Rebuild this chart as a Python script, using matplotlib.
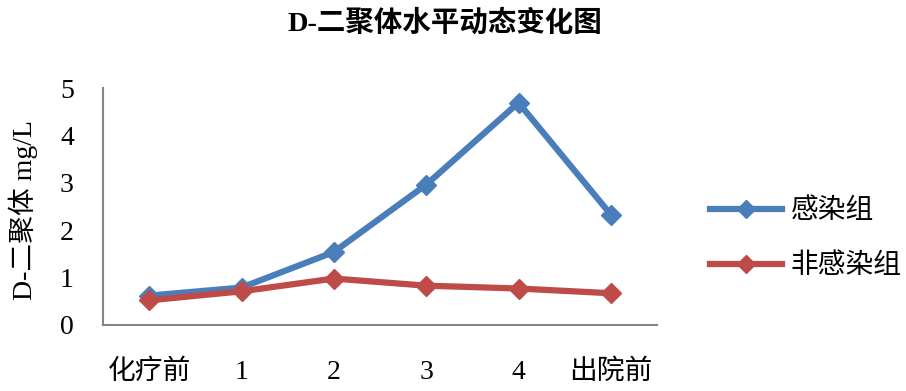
import matplotlib
matplotlib.use("Agg")
import matplotlib.pyplot as plt
from matplotlib.lines import Line2D

categories = ["化疗前", "1", "2", "3", "4", "出院前"]
infected = [0.62, 0.79, 1.54, 2.96, 4.69, 2.33]
non_infected = [0.52, 0.71, 0.98, 0.83, 0.77, 0.67]
series_names = ["感染组", "非感染组"]
yticks = [0, 1, 2, 3, 4, 5]

fam = ["Liberation Serif", "Noto Sans CJK SC", "DejaVu Sans"]
plt.rcParams["font.family"] = fam

fig = plt.figure(figsize=(9.06, 3.91), dpi=100)
ax = fig.add_axes([103/906, 1-325/391, (657-103)/906, (325-88)/391])

blue = "#4a7ebb"
red = "#be4b48"
x = list(range(len(categories)))
ax.plot(x, infected, color=blue, lw=4.5, marker="D", ms=10, mec=blue, mfc=blue, label=series_names[0], zorder=3)
ax.plot(x, non_infected, color=red, lw=4.5, marker="D", ms=10, mec=red, mfc=red, label=series_names[1], zorder=4)

ax.set_xlim(-0.5, len(categories) - 0.5)
ax.set_ylim(0, 5)
ax.set_yticks(yticks)
ax.set_yticklabels([str(v) for v in yticks], fontsize=20)
ax.set_xticks(x)
ax.set_xticklabels(categories, fontsize=20)
ax.tick_params(axis="x", length=0, pad=25)
ax.tick_params(axis="y", length=0, pad=21)
for s in ["top", "right"]:
    ax.spines[s].set_visible(False)
for s in ["left", "bottom"]:
    ax.spines[s].set_color("#868686")
    ax.spines[s].set_linewidth(1.5)

ax.set_ylabel("D-二聚体 mg/L", fontsize=20)
ax.yaxis.set_label_coords((38 - 103) / 554, (325 - 210) / 237)

fig.text(445/906, 1-23/391, "D-二聚体水平动态变化图", ha="center", va="center",
         fontsize=20.5, fontweight="bold")

handles = [Line2D([0], [0], color=blue, lw=4.5, marker="D", ms=9),
           Line2D([0], [0], color=red, lw=4.5, marker="D", ms=9)]
fig.legend(handles, series_names, loc="center left", bbox_to_anchor=(710/906, 1-239/391),
           frameon=False, fontsize=20, handlelength=2.6, labelspacing=1.05, handletextpad=0.3,
           borderaxespad=0, borderpad=0)

fig.savefig("out.png", dpi=100, facecolor="white")
